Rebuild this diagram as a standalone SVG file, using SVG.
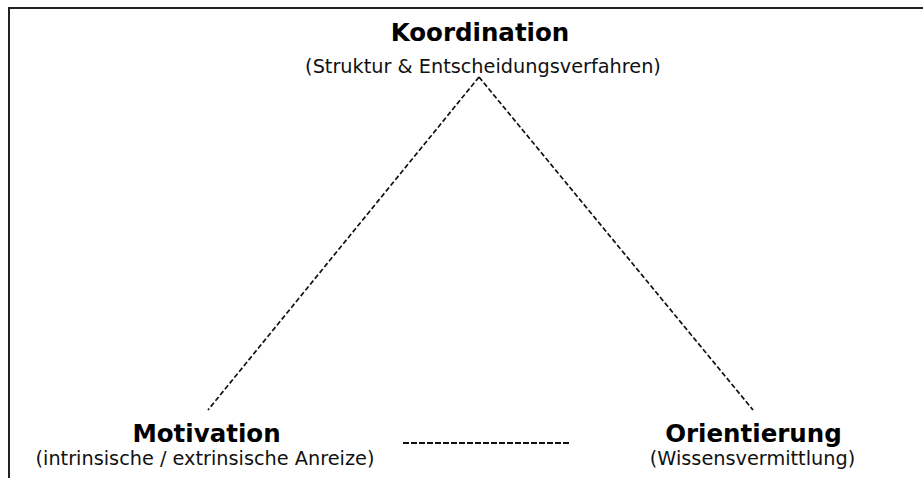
<svg xmlns="http://www.w3.org/2000/svg" width="923" height="478" viewBox="0 0 923 478">
<style>
.title{font-family:"DejaVu Sans",Verdana,sans-serif;font-weight:bold;font-size:24.5px;fill:#000;text-anchor:middle}
.sub{font-family:"DejaVu Sans",Verdana,sans-serif;font-size:19.3px;fill:#111;text-anchor:middle}
.dash{stroke:#111;stroke-width:1.7;stroke-dasharray:5 2.5;fill:none}
</style>
<rect width="923" height="478" fill="#fff"/>
<path d="M9,478 V8 H923" fill="none" stroke="#222" stroke-width="2"/>
<g id="connectors">
<line class="dash" x1="479" y1="77" x2="208" y2="410"/>
<line class="dash" x1="479" y1="77" x2="753" y2="410"/>
<line x1="403" y1="443" x2="570" y2="443" stroke="#111" stroke-width="2" stroke-dasharray="6 2"/>
</g>
<g id="koordination">
<text class="title" x="480" y="41">Koordination</text>
<text class="sub" x="483" y="73">(Struktur &amp; Entscheidungsverfahren)</text>
</g>
<g id="motivation">
<text class="title" x="206.5" y="442">Motivation</text>
<text class="sub" x="205" y="465">(intrinsische / extrinsische Anreize)</text>
</g>
<g id="orientierung">
<text class="title" x="753.5" y="442">Orientierung</text>
<text class="sub" x="752.5" y="465">(Wissensvermittlung)</text>
</g>
</svg>
